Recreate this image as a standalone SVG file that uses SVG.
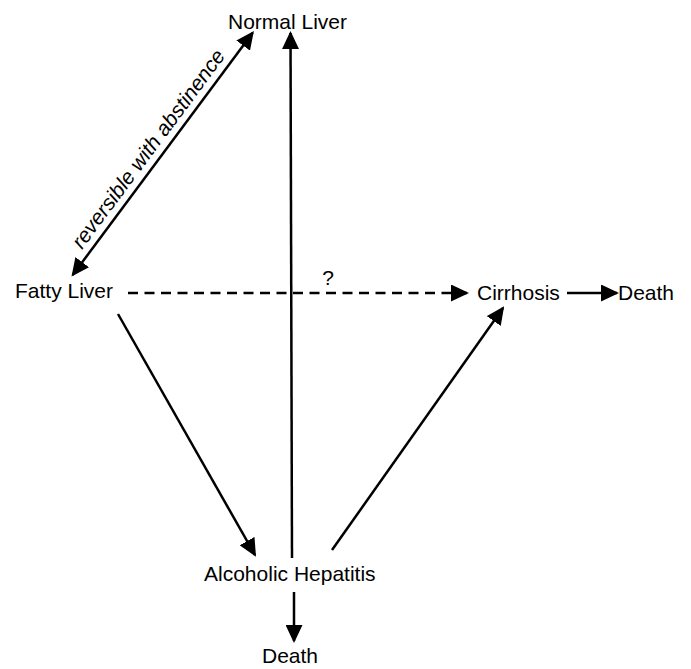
<svg xmlns="http://www.w3.org/2000/svg" width="691" height="669" viewBox="0 0 691 669">
<style>
  .lbl { font-family: "Liberation Sans", Arial, sans-serif; font-size: 21px; fill: #000; }
  .edge { stroke: #000; stroke-width: 2.5; fill: none; }
  .dash { stroke-dasharray: 10 6.5; }
</style>
<defs>
  <marker id="ah" markerUnits="userSpaceOnUse" markerWidth="18" markerHeight="17" viewBox="0 0 18 17" refX="16" refY="8.5" orient="auto-start-reverse">
    <path d="M0,0 L18,8.5 L0,17 z" fill="#000"/>
  </marker>
</defs>
<rect width="691" height="669" fill="#fff"/>
<g id="connectors">
  <line class="edge" x1="72.7" y1="275" x2="252.7" y2="32.7" marker-start="url(#ah)" marker-end="url(#ah)"/>
  <line class="edge" x1="292" y1="558" x2="290.5" y2="33" marker-end="url(#ah)"/>
  <line class="edge dash" x1="128" y1="293" x2="467" y2="293" marker-end="url(#ah)"/>
  <line class="edge" x1="567" y1="293" x2="617" y2="293" marker-end="url(#ah)"/>
  <line class="edge" x1="118" y1="314" x2="255" y2="555" marker-end="url(#ah)"/>
  <line class="edge" x1="332" y1="550" x2="503" y2="308" marker-end="url(#ah)"/>
  <line class="edge" x1="294" y1="592" x2="294" y2="641" marker-end="url(#ah)"/>
  <text class="lbl" font-style="italic" x="154" y="153" text-anchor="middle" transform="rotate(-53.4 154 153)">reversible with abstinence</text>
  <text class="lbl" x="328" y="285" text-anchor="middle">?</text>
</g>
<g id="normal-liver"><text class="lbl" x="228" y="29">Normal Liver</text></g>
<g id="fatty-liver"><text class="lbl" x="15" y="298">Fatty Liver</text></g>
<g id="cirrhosis"><text class="lbl" x="477" y="300">Cirrhosis</text></g>
<g id="death-right"><text class="lbl" x="618" y="300">Death</text></g>
<g id="alcoholic-hepatitis"><text class="lbl" x="204" y="581">Alcoholic Hepatitis</text></g>
<g id="death-bottom"><text class="lbl" x="262" y="663">Death</text></g>
</svg>
